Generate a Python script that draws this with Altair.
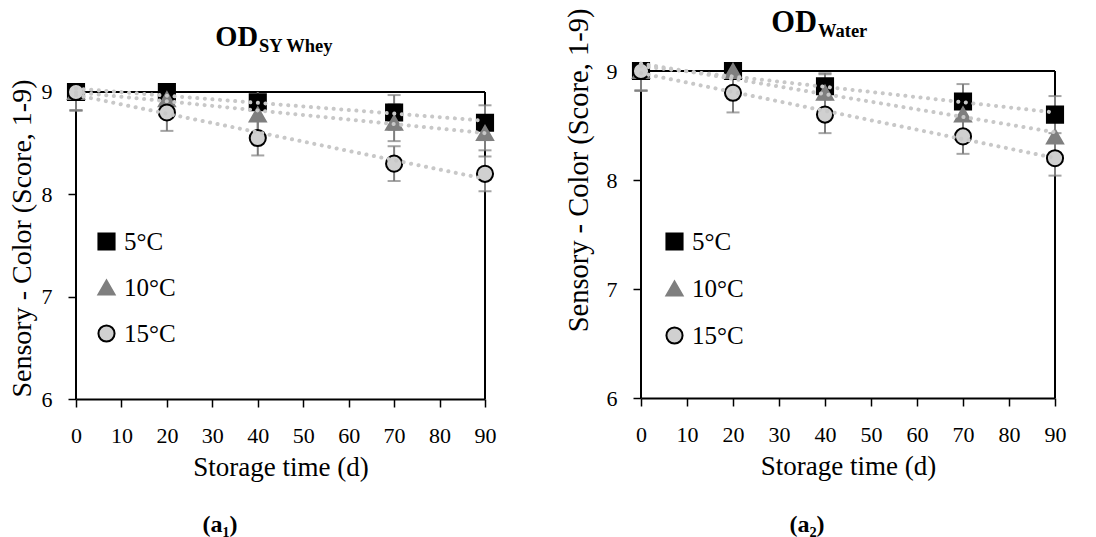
import altair as alt
import pandas as pd

# ---- data ----
days = [0, 20, 40, 70, 90]
series_names = ["5°C", "10°C", "15°C"]

whey_5 = [9.0, 9.0, 8.9, 8.8, 8.7]
whey_10 = [9.0, 8.93, 8.78, 8.7, 8.6]
whey_15 = [9.0, 8.8, 8.55, 8.3, 8.2]
whey_err_5 = [0.18, 0.17, 0.17, 0.17, 0.17]
whey_err_10 = [0.18, 0.17, 0.17, 0.18, 0.17]
whey_err_15 = [0.18, 0.18, 0.17, 0.17, 0.17]

water_5 = [9.0, 9.0, 8.86, 8.72, 8.6]
water_10 = [9.0, 9.0, 8.8, 8.6, 8.4]
water_15 = [9.0, 8.8, 8.6, 8.4, 8.2]
water_err_5 = [0.18, 0.17, 0.12, 0.16, 0.17]
water_err_10 = [0.18, 0.17, 0.17, 0.17, 0.17]
water_err_15 = [0.18, 0.18, 0.17, 0.16, 0.16]

x_ticks = [0, 10, 20, 30, 40, 50, 60, 70, 80, 90]
y_ticks = [6, 7, 8, 9]
x_range = [0, 90]
y_range = [6, 9]

title_main = "OD"
title_sub_left = "SY Whey"
title_sub_right = "Water"
caption_left = "(a₁)"
caption_right = "(a₂)"
x_title = "Storage time (d)"
y_title = "Sensory - Color (Score, 1-9)"

FONT = "Liberation Serif"
shape_range = ["square", "triangle-up", "circle"]
fill_range = ["#000000", "#7f7f7f", "#d0d0d0"]
stroke_range = ["#000000", "#7f7f7f", "#000000"]


def long_df(v5, v10, v15, e5, e10, e15):
    rows = []
    for name, vals, errs in zip(series_names, [v5, v10, v15], [e5, e10, e15]):
        for d, v, e in zip(days, vals, errs):
            rows.append({"day": d, "score": v, "series": name, "lo": v - e, "hi": v + e})
    return pd.DataFrame(rows)


def frame_df():
    x0, x1 = x_range
    y0, y1 = y_range
    return pd.DataFrame({
        "day": [x0, x0, x1], "xb": [x0, x1, x1],
        "score": [y0, y1, y0], "yb": [y1, y1, y1],
    })


def panel(df, w, h, ytop, sub, caption, leg_x, leg_y, row_pad, ytx, yty, off_left,
          off_top, od_x, od_y, sub_y, od_size, cap_x, cap_y, ytitle_size):
    xs = alt.Scale(domain=x_range, nice=False)
    ys = alt.Scale(domain=[y_range[0], ytop], nice=False)
    x_axis = alt.Axis(values=x_ticks, title=x_title, titleX=w / 2, titleY=76)
    y_axis = alt.Axis(values=y_ticks, title=y_title, domain=False, titleX=ytx, titleY=yty,
                      titleFontSize=ytitle_size)
    X = alt.X("day:Q", scale=xs, axis=x_axis)
    base = alt.Chart(df)
    legend = alt.Legend(title=None, orient="none", legendX=leg_x, legendY=leg_y,
                        rowPadding=row_pad, labelFont=FONT, labelFontSize=25,
                        labelColor="#000", symbolSize=260, symbolStrokeWidth=2,
                        padding=0, labelOffset=5)
    sdom = alt.Scale(domain=series_names, range=shape_range)
    fdom = alt.Scale(domain=series_names, range=fill_range)
    kdom = alt.Scale(domain=series_names, range=stroke_range)

    frame = alt.Chart(frame_df()).mark_rule(color="#000", strokeWidth=2).encode(
        x=X, x2="xb:Q",
        y=alt.Y("score:Q", scale=ys, axis=y_axis), y2="yb:Q")
    # error bars are cut at the top of the frame, as in the reference
    clipped = base.transform_calculate(hic="min(datum.hi, %s)" % y_range[1])
    err = clipped.mark_rule(color="#7f7f7f", strokeWidth=2).encode(
        x=X, y=alt.Y("lo:Q", scale=ys, axis=y_axis), y2="hic:Q")
    cap_lo = base.mark_tick(color="#7f7f7f", thickness=2, size=13, orient="horizontal").encode(
        x=X, y=alt.Y("lo:Q", scale=ys, axis=y_axis))
    cap_hi = base.transform_filter("datum.hi <= %s" % y_range[1]).mark_tick(
        color="#7f7f7f", thickness=2, size=13, orient="horizontal").encode(
        x=X, y=alt.Y("hi:Q", scale=ys, axis=y_axis))
    pts = base.mark_point(filled=True, opacity=1, size=260, strokeWidth=2).encode(
        x=X,
        y=alt.Y("score:Q", scale=ys, axis=y_axis),
        shape=alt.Shape("series:N", scale=sdom, legend=legend),
        fill=alt.Fill("series:N", scale=fdom, legend=legend),
        stroke=alt.Stroke("series:N", scale=kdom, legend=legend),
    )
    trend = base.transform_regression("day", "score", groupby=["series"], extent=x_range).mark_line(
        color="#c8c8c8", strokeWidth=4, strokeDash=[0.1, 7.5], strokeCap="round"
    ).encode(x=X, y=alt.Y("score:Q", scale=ys, axis=y_axis), detail="series:N")

    one = pd.DataFrame({"a": [1]})
    t_od = alt.Chart(pd.DataFrame({"t": [title_main]})).mark_text(
        font=FONT, fontSize=od_size, fontWeight="bold", align="right", baseline="alphabetic",
        color="#000").encode(x=alt.value(od_x), y=alt.value(od_y), text="t:N")
    t_sub = alt.Chart(pd.DataFrame({"t": [sub]})).mark_text(
        font=FONT, fontSize=18.5, fontWeight="bold", align="left", baseline="alphabetic",
        color="#000").encode(x=alt.value(od_x + 1), y=alt.value(sub_y), text="t:N")
    t_cap = alt.Chart(pd.DataFrame({"t": [caption]})).mark_text(
        font=FONT, fontSize=24, fontWeight="bold", align="center", baseline="alphabetic",
        color="#000").encode(x=alt.value(cap_x), y=alt.value(cap_y), text="t:N")
    spacer = alt.Chart(one).mark_rule(strokeOpacity=0, opacity=0).encode(
        x=alt.value(-off_left), y=alt.value(-off_top), x2=alt.value(w), y2=alt.value(h + 100))

    return alt.layer(frame, err, cap_lo, cap_hi, pts, trend, t_od, t_sub, t_cap, spacer).properties(
        width=w, height=h)


# left panel: 9 sits 21 px below the shared top edge, so its scale runs a little above 9
left = panel(long_df(whey_5, whey_10, whey_15, whey_err_5, whey_err_10, whey_err_15),
             409, 328, 9.2052, title_sub_left, caption_left, 18, 158, 20, -54, 167, 76, 71,
             182, -25, -19, 28.5, 144, 461, 28)
right = panel(long_df(water_5, water_10, water_15, water_err_5, water_err_10, water_err_15),
              414, 327, 9.0, title_sub_right, caption_right, 21, 158, 21, -63, 99, 20, 71,
              176, -39, -34, 30.5, 166, 461, 28.5)

chart = alt.hconcat(left, right, spacing=156, bounds="flush").resolve_scale(
    shape="independent", fill="independent", stroke="independent"
).properties(padding=0).configure(
    font=FONT, background="white"
).configure_view(strokeWidth=0).configure_axis(
    grid=False, labelFont=FONT, labelFontSize=22, labelColor="#000", tickSize=8,
    tickWidth=1.5, tickColor="#000", domainColor="#000", domainWidth=2,
    titleFont=FONT, titleFontSize=27, titleFontWeight="normal", titleColor="#000"
).configure_axisX(
    labelPadding=18, titleAlign="center", titleBaseline="alphabetic", labelFlush=False
).configure_axisY(
    labelPadding=16, titleAngle=270, titleAlign="center", titleBaseline="middle", labelFlush=False
)

chart.save("out.html", embed_options={"renderer": "svg", "actions": False})
